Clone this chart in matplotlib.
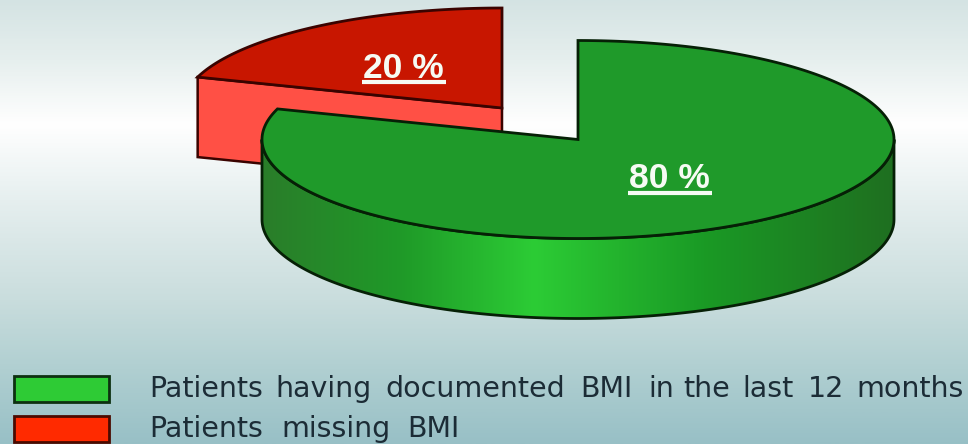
import numpy as np
import matplotlib
matplotlib.use("Agg")
import matplotlib.pyplot as plt
from matplotlib.colors import LinearSegmentedColormap
from matplotlib.patches import Polygon, Rectangle

# Data
legend_labels = ["Patients having documented BMI in the last 12 months", "Patients missing BMI"]
shares = [80, 20]
share_labels = ["80 %", "20 %"]

# Style / layout
W, H = 968, 444
GREEN_TOP, RED_TOP, RED_SIDE = "#1f9a2a", "#c81600", "#ff5045"
LEG_GREEN, LEG_RED = "#2ecb35", "#ff2a00"
EDGE = "#062006"
RED_EDGE = "#3a0300"
DEPTH = 80
green_c, green_r = (578, 139.5), (316, 99)
red_c, red_r = (502, 108), (320, 100)
# horizontal span of each legend word in the reference (wide letter spacing)
word_spans = [
    [(147, 265), (279, 369), (385, 565), (578, 634), (650, 673), (685, 728), (743, 793), (810, 842), (857, 963)],
    [(147, 265), (279, 392), (405, 462)],
]


def xy(c, r, deg):
    a = np.radians(deg)
    return np.column_stack([c[0] + r[0] * np.cos(a), c[1] - r[1] * np.sin(a)])


fig = plt.figure(figsize=(W / 100, H / 100), dpi=100)
ax = fig.add_axes([0, 0, 1, 1])
ax.axis("off")

bg = LinearSegmentedColormap.from_list("bg", [
    (0, "#d4e3e3"), (60 / 444, "#e6efee"), (125 / 444, "#ffffff"), (200 / 444, "#e6efef"),
    (300 / 444, "#c9dddd"), (370 / 444, "#b0cfd1"), (1, "#98c0c6")])
ax.imshow(np.linspace(0, 1, 444)[:, None], cmap=bg, extent=(0, W, H, 0), aspect="auto", zorder=0)

# Angles come from the shares: both slices start at 12 o'clock
sweep_green = 360 * shares[0] / sum(shares)
sweep_red = 360 * shares[1] / sum(shares)
g_ang = np.linspace(90, 90 - sweep_green, 400)
r_ang = np.linspace(90, 90 + sweep_red, 120)

# Red slice: cut face, then top
r_arc = xy(red_c, red_r, r_ang)
end = r_arc[-1]
ax.add_patch(Polygon([end, red_c, (red_c[0], red_c[1] + DEPTH), (end[0], end[1] + DEPTH)],
                     closed=True, fc=RED_SIDE, ec=RED_EDGE, lw=1.8, zorder=2))
ax.add_patch(Polygon(np.vstack([[red_c], r_arc]), closed=True, fc=RED_TOP, ec=RED_EDGE, lw=2, zorder=3))

# Green slice: curved front wall with gradient
front = np.linspace(180, 360, 200)
f_top = xy(green_c, green_r, front)
f_bot = f_top + [0, DEPTH]
wall = Polygon(np.vstack([f_top, f_bot[::-1]]), closed=True, fc="none", ec=EDGE, lw=2, zorder=5)
ax.add_patch(wall)
wall_cmap = LinearSegmentedColormap.from_list("wall", [
    (0, "#2a7d2a"), (0.22, "#1f9a28"), (0.43, "#2ccc35"),
    (0.70, "#1a9a25"), (1, "#1f6f20")])
grad = ax.imshow(np.linspace(0, 1, 256)[None, :], cmap=wall_cmap,
                 extent=(262, 894, 330, 130), aspect="auto", zorder=4)
grad.set_clip_path(wall)

g_arc = xy(green_c, green_r, g_ang)
ax.add_patch(Polygon(np.vstack([[green_c], g_arc]), closed=True, fc=GREEN_TOP, ec=EDGE, lw=2, zorder=6))

# Slice labels
for label, x, base in zip(share_labels, (669.5, 403.5), (188, 78)):
    ax.text(x, base, label, color="#f6fbf4", fontsize=25.5, fontweight="bold",
            family="Liberation Sans", ha="center", va="baseline", zorder=8)
    ax.plot([x - 42, x + 42], [base + 4.5, base + 4.5], color="#f6fbf4", lw=3, solid_capstyle="butt", zorder=8)

# Legend
for y, col, ec, label, base, spans in zip((375.5, 415.5), (LEG_GREEN, LEG_RED), ("#0d3010", "#4a0a00"),
                                          legend_labels, (397, 437), word_spans):
    ax.add_patch(Rectangle((13.5, y), 95, 26, fc=col, ec=ec, lw=2, zorder=3))
    for word, (x0, x1) in zip(label.split(), spans):
        ax.text((x0 + x1) / 2, base, word, color="#1c2c36", fontsize=20.5, family="DejaVu Sans",
                ha="center", va="baseline", zorder=3)

ax.set_xlim(0, W)
ax.set_ylim(H, 0)
fig.savefig("out.png", dpi=100)
